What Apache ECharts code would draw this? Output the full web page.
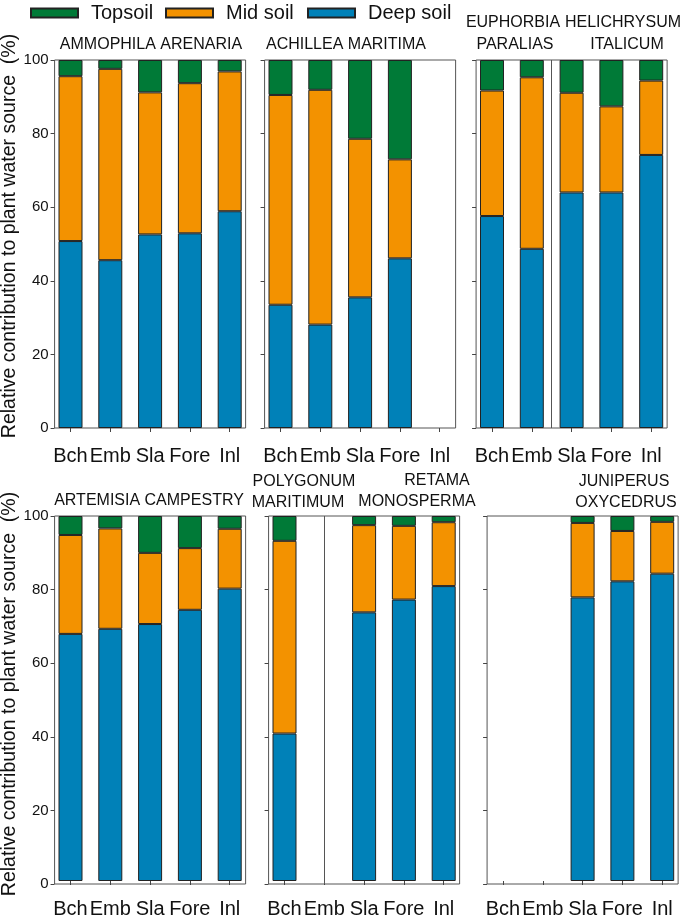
<!DOCTYPE html>
<html>
<head>
<meta charset="utf-8">
<script src="https://cdn.jsdelivr.net/npm/echarts@6/dist/echarts.min.js"></script>
<style>
  html, body { margin: 0; padding: 0; background: #fff; }
  #main { width: 685px; height: 919px; }
</style>
</head>
<body>
<div id="main"></div>
<script>
// sites along the dune gradient
var categories = ["Bch", "Emb", "Sla", "Fore", "Inl"];
var legendNames = ["Topsoil", "Mid soil", "Deep soil"];

// species names per panel (one entry per text line)
var panelTitles = [
  ["AMMOPHILA ARENARIA"],
  ["ACHILLEA MARITIMA"],
  ["EUPHORBIA", "PARALIAS", "HELICHRYSUM", "ITALICUM"],
  ["ARTEMISIA CAMPESTRY"],
  ["POLYGONUM", "MARITIMUM", "RETAMA", "MONOSPERMA"],
  ["JUNIPERUS", "OXYCEDRUS"]
];

// % contribution of each soil layer (null = species absent at site)
var deepSoil = [
  [50.8, 45.6, 52.6, 52.9, 58.9],
  [33.5, 28.1, 35.5, 46.1, null],
  [57.6, 48.7, 64.0, 64.0, 74.2],
  [67.7, 69.1, 70.4, 74.3, 80.1],
  [40.4, null, 73.6, 77.1, 80.8],
  [null, null, 77.7, 82.1, 84.2]
];
var midSoil = [
  [44.8, 52.0, 38.6, 40.8, 38.0],
  [57.0, 63.8, 43.1, 26.9, null],
  [34.1, 46.6, 27.1, 23.4, 20.2],
  [27.1, 27.5, 19.5, 16.9, 16.4],
  [52.8, null, 23.9, 20.2, 17.5],
  [null, null, 20.4, 13.8, 14.2]
];
var topSoil = [
  [4.4, 2.4, 8.8, 6.3, 3.1],
  [9.5, 8.1, 21.4, 27.0, null],
  [8.3, 4.7, 8.9, 12.6, 5.6],
  [5.2, 3.4, 10.1, 8.8, 3.5],
  [6.8, null, 2.5, 2.7, 1.7],
  [null, null, 1.9, 4.1, 1.6]
];
// vertical separators between two species sharing a panel (category position)
var dividerAt = [null, null, 1.5, null, 1, null];

var yMin = 0, yMax = 100, yStep = 20;
var yName = "Relative contribution to plant water source  (%)";

// ---- layout ----
var fontFam = "Liberation Sans, Arial, sans-serif";
var colors = { top: "#007a37", mid: "#f39200", deep: "#0081b8" };
var rowTop = [60, 516];
var plotH = 368;
var band = 39.8;
var firstCenter = [70.5, 280.5, 492, 70.5, 284.5, 503];
// [x, y] of each title line
var titlePos = [
  [[151, 45]],
  [[346, 45]],
  [[513, 23], [515, 45], [623, 23], [627, 45]],
  [[149, 501]],
  [[304, 482], [298, 503], [437, 481], [417, 502]],
  [[624, 482], [626, 503]]
];
var legendLeft = [30, 165, 307];

var chart = echarts.init(document.getElementById("main"));

var grids = [], xAxes = [], yAxes = [], seriesList = [], graphics = [];

for (var p = 0; p < 6; p++) {
  var rowY = rowTop[Math.floor(p / 3)];
  var c0 = firstCenter[p];
  var fi = 2 * p, di = 2 * p + 1;

  // frame grid: box, y ticks and labels
  grids.push({ left: c0 - 0.4 * band, top: rowY, width: 4.8 * band, height: plotH,
    show: true, borderColor: "#555", borderWidth: 1, backgroundColor: "transparent" });
  // data grid: bars and category ticks
  grids.push({ left: c0 - 0.5 * band, top: rowY, width: 5 * band, height: plotH });

  xAxes.push({ type: "value", gridIndex: fi, min: -0.4, max: 4.4, show: false,
    axisLine: { onZero: false } });
  yAxes.push({
    type: "value", gridIndex: fi, min: yMin, max: yMax, interval: yStep,
    axisLine: { show: false, onZero: false },
    axisTick: { show: true, length: 4, lineStyle: { color: "#444" } },
    axisLabel: { show: p % 3 === 0, margin: 6, fontSize: 15, color: "#111", fontFamily: fontFam },
    splitLine: { show: false }
  });

  xAxes.push({
    type: "category", gridIndex: di, data: categories,
    axisLine: { show: false },
    axisTick: { show: true, alignWithLabel: true, length: 4, lineStyle: { color: "#444" } },
    axisLabel: { interval: 0, fontSize: 20, margin: 18, color: "#111", fontFamily: fontFam }
  });
  yAxes.push({ type: "value", gridIndex: di, min: yMin, max: yMax, show: false });

  var layers = [
    [legendNames[2], deepSoil[p], colors.deep],
    [legendNames[1], midSoil[p], colors.mid],
    [legendNames[0], topSoil[p], colors.top]
  ];
  layers.forEach(function (l) {
    seriesList.push({
      name: l[0], type: "bar", stack: "s" + p,
      xAxisIndex: di, yAxisIndex: di,
      barWidth: 24, data: l[1],
      itemStyle: { color: l[2], borderColor: "#222", borderWidth: 1 },
      emphasis: { disabled: true }
    });
  });

  if (dividerAt[p] !== null) {
    seriesList.push({
      name: "divider" + p, type: "line", xAxisIndex: fi, yAxisIndex: fi, data: [],
      markLine: {
        silent: true, symbol: "none", label: { show: false },
        lineStyle: { color: "#555", type: "solid", width: 1 },
        data: [{ xAxis: dividerAt[p] }]
      }
    });
  }

  // panel titles
  panelTitles[p].forEach(function (t, k) {
    graphics.push({
      type: "text", x: titlePos[p][k][0], y: titlePos[p][k][1],
      style: { text: t, fill: "#111", font: "16px " + fontFam, align: "center", verticalAlign: "middle" }
    });
  });
}

// rotated y axis names, one per row
[236, 694].forEach(function (cy) {
  graphics.push({
    type: "text", x: 10, y: cy, rotation: Math.PI / 2,
    style: { text: yName, fill: "#111", font: "19.5px " + fontFam, align: "center", verticalAlign: "middle" }
  });
});

chart.setOption({
  animation: false,
  legend: legendNames.map(function (n, i) {
    return {
      data: [n], left: legendLeft[i], top: 3, padding: 0, icon: "rect",
      itemWidth: 47, itemHeight: 9, selectedMode: false,
      textStyle: { fontSize: 20, color: "#111", fontFamily: fontFam, padding: [0, 0, 0, 8] }
    };
  }),
  grid: grids,
  xAxis: xAxes,
  yAxis: yAxes,
  series: seriesList,
  graphic: graphics
});
</script>
</body>
</html>
